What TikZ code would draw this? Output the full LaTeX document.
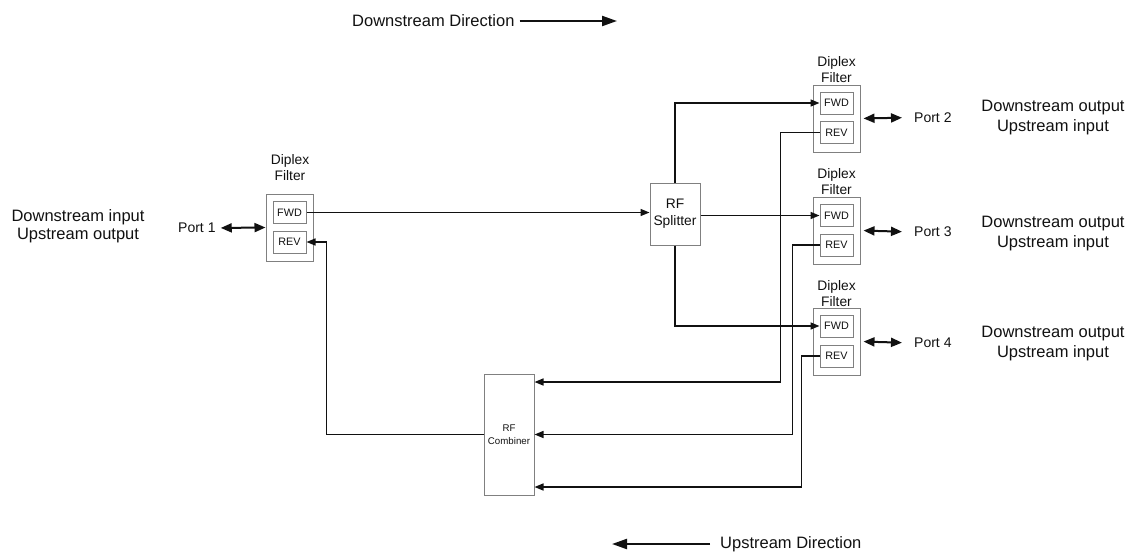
\documentclass[tikz,border=0pt]{standalone}
\usepackage{fontspec}
\setmainfont{Liberation Sans}
\usetikzlibrary{arrows.meta,calc}
\definecolor{boxgray}{HTML}{808080}
\definecolor{ink}{HTML}{111111}
\begin{document}
\begin{tikzpicture}[x=1pt,y=-1pt,
  every node/.style={text=ink, inner sep=0pt},
  outerbox/.style={draw=boxgray, line width=1pt, minimum width=47pt, minimum height=67pt},
  innerbox/.style={draw=boxgray, line width=1pt, minimum width=33pt, minimum height=22pt,
    font=\fontsize{10.8}{12}\selectfont},
  blockbox/.style={draw=boxgray, line width=1pt, align=center},
  caption/.style={align=center, font=\fontsize{13.8}{16}\selectfont},
  bigtext/.style={align=center, font=\fontsize{16.5}{20.5}\selectfont},
  porttext/.style={anchor=west, font=\fontsize{14}{16}\selectfont},
  conn/.style={draw=ink, line width=1.5pt, -{Triangle[length=9pt,width=7pt]}},
  portarrow/.style={draw=ink, line width=2pt,
    {Triangle[length=11pt,width=9pt]}-{Triangle[length=11pt,width=9pt]}},
  dirarrow/.style={draw=ink, line width=2.2pt, -{Triangle[length=15pt,width=10pt]}},
]
\useasboundingbox (0,0) rectangle (1130,555);

% direction legends
\node[bigtext, anchor=west] (dstext) at (352,21) {Downstream Direction};
\coordinate (dsend) at (617,21);
\draw[dirarrow, shorten <=5pt] (dstext.east) -- (dsend);
\node[bigtext, anchor=west] (ustext) at (720,544) {Upstream Direction};
\coordinate (usend) at (612,544);
\draw[dirarrow, shorten <=10pt] (ustext.west) -- (usend);

% input side diplex filter
\node[caption] (cap1) at (290,168) {Diplex\\Filter};
\node[outerbox] (dpx1) at (289.5,227.5) {};
\node[innerbox] (fwd1) at (289.5,212.5) {FWD};
\node[innerbox] (rev1) at (289.5,242) {REV};
\node[porttext] (port1) at (178,228) {Port 1};
\draw[portarrow, shorten <=5pt] (port1.east) -- (dpx1.west);
\node[bigtext, font=\fontsize{16.5}{18}\selectfont] (inlbl) at (78,226) {Downstream input\\Upstream output};

% output side diplex filters
\node[caption] (cap2) at (836.5,69.5) {Diplex\\Filter};
\node[outerbox] (dpx2) at (836.5,118.5) {};
\node[innerbox] (fwd2) at (836.5,103) {FWD};
\node[innerbox] (rev2) at (836.5,132.5) {REV};
\node[porttext] (port2) at (914,117.5) {Port 2};
\draw[portarrow, shorten <=3pt, shorten >=12pt] (dpx2.east) -- (port2.west);
\node[bigtext] (outlbl2) at (1053,117.5) {Downstream output\\Upstream input};

\node[caption] (cap3) at (836.5,182) {Diplex\\Filter};
\node[outerbox] (dpx3) at (836.5,230.5) {};
\node[innerbox] (fwd3) at (836.5,215.5) {FWD};
\node[innerbox] (rev3) at (836.5,245) {REV};
\node[porttext] (port3) at (914,232) {Port 3};
\draw[portarrow, shorten <=3pt, shorten >=12pt] (dpx3.east) -- (port3.west);
\node[bigtext] (outlbl3) at (1053,233.5) {Downstream output\\Upstream input};

\node[caption] (cap4) at (836.5,294) {Diplex\\Filter};
\node[outerbox] (dpx4) at (836.5,341.5) {};
\node[innerbox] (fwd4) at (836.5,326) {FWD};
\node[innerbox] (rev4) at (836.5,356) {REV};
\node[porttext] (port4) at (914,343) {Port 4};
\draw[portarrow, shorten <=3pt, shorten >=12pt] (dpx4.east) -- (port4.west);
\node[bigtext] (outlbl4) at (1053,343.5) {Downstream output\\Upstream input};

% splitter and combiner
\node[blockbox, minimum width=50pt, minimum height=62pt,
      font=\fontsize{13.8}{17}\selectfont] (split) at (675,214) {RF\\Splitter};
\node[blockbox, minimum width=50pt, minimum height=121pt,
      font=\fontsize{9.7}{12.5}\selectfont] (comb) at (509,434.5) {RF\\Combiner};
\coordinate (cin1) at ($(comb.east)+(0,-52.5)$);
\coordinate (cin3) at ($(comb.east)+(0,52.5)$);

% downstream paths
\draw[conn] (fwd1.east) -- (fwd1.east -| split.west);
\draw[conn] (split.north) |- (fwd2.west);
\draw[conn] (split.east |- fwd3.west) -- (fwd3.west);
\draw[conn] (split.south) |- (fwd4.west);

% upstream paths
\draw[conn] (rev2.west) -- ++(-39,0) |- (cin1);
\draw[conn] (rev3.west) -- ++(-27,0) |- (comb.east);
\draw[conn] (rev4.west) -- ++(-18,0) |- (cin3);
\draw[conn] (comb.west) -- ++(-157,0) |- (rev1.east);
\end{tikzpicture}
\end{document}
